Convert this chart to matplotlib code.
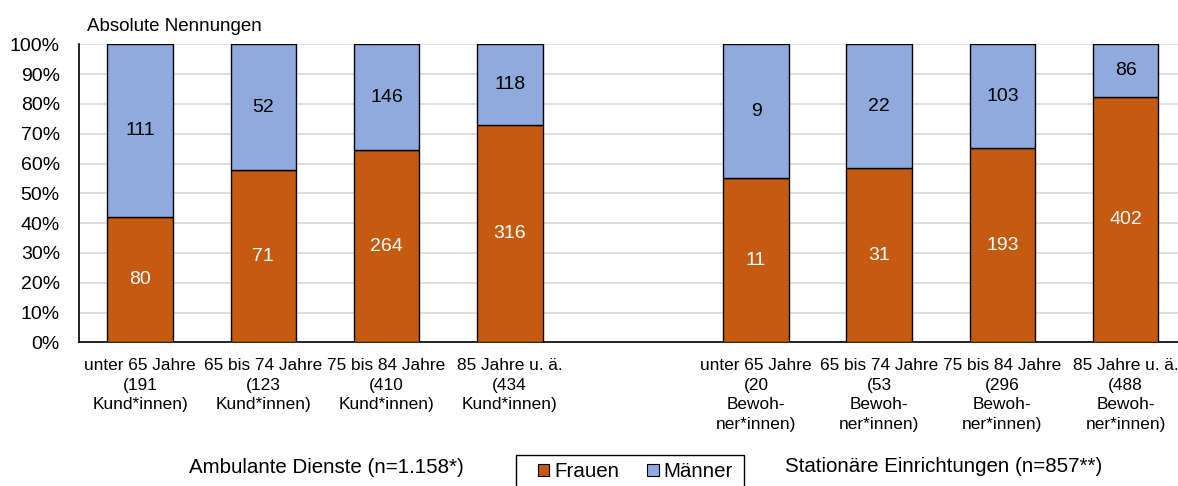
import numpy as np
import matplotlib
matplotlib.use("Agg")
import matplotlib.pyplot as plt
from matplotlib.patches import Rectangle

plt.rcParams['font.family'] = ['Liberation Sans', 'DejaVu Sans']

# absolute Nennungen per age group
age_labels = ["unter 65 Jahre", "65 bis 74 Jahre", "75 bis 84 Jahre", "85 Jahre u. ä."]
amb_frauen = [80, 71, 264, 316]
amb_maenner = [111, 52, 146, 118]
amb_total = [191, 123, 410, 434]
sta_frauen = [11, 31, 193, 402]
sta_maenner = [9, 22, 103, 86]
sta_total = [20, 53, 296, 488]

orange = "#C55A11"
blue = "#8FAADC"

fig = plt.figure(figsize=(11.78, 4.86), dpi=100)
ax = fig.add_axes([78.6 / 1178, 1 - 342.3 / 486, (1187.1 - 78.6) / 1178, (342.3 - 44.3) / 486])

frauen = amb_frauen + sta_frauen
maenner = amb_maenner + sta_maenner
labels = [a + "\n(" + str(n) + "\nKund*innen)" for a, n in zip(age_labels, amb_total)]
labels += [a + "\n(" + str(n) + "\nBewoh-\nner*innen)" for a, n in zip(age_labels, sta_total)]

# one empty slot between the two groups
x = np.array([i if i < 4 else i + 1 for i in range(8)])
f = np.array(frauen, dtype=float)
m = np.array(maenner, dtype=float)
pf = f / (f + m) * 100
pm = m / (f + m) * 100

w = 0.533
ax.bar(x, pf, w, color=orange, edgecolor="black", linewidth=1, zorder=3, label="Frauen")
ax.bar(x, pm, w, bottom=pf, color=blue, edgecolor="black", linewidth=1, zorder=3, label="Männer")

for xi, a, b, fv, mv in zip(x, pf, pm, frauen, maenner):
    ax.text(xi, a / 2, str(fv), ha="center", va="center", color="white", fontsize=14, zorder=4)
    ax.text(xi, a + b / 2, str(mv), ha="center", va="center", color="black", fontsize=14, zorder=4)

ax.set_xlim(-0.5, 8.5)
ax.set_ylim(0, 100)
ax.set_yticks(np.arange(0, 101, 10))
ax.set_yticklabels([str(v) + "%" for v in range(0, 101, 10)], fontsize=14)
ax.set_xticks(x)
ax.set_xticklabels(labels, fontsize=12.4, linespacing=1.38)
ax.tick_params(axis="y", length=0, pad=13.5)
ax.tick_params(axis="x", length=0, pad=11.5)
ax.yaxis.grid(True, color="#D9D9D9", linewidth=1.2, zorder=0)
ax.set_axisbelow(True)
for s in ["top", "right"]:
    ax.spines[s].set_visible(False)
ax.spines["left"].set_linewidth(1.2)
ax.spines["bottom"].set_linewidth(1.2)

fig.text(87 / 1178, 1 - 31 / 486, "Absolute Nennungen", fontsize=13.5, va="baseline", ha="left")
fig.text(326.7 / 1178, 1 - 473 / 486, "Ambulante Dienste (n=1.158*)", fontsize=14.8, va="baseline", ha="center")
fig.text(944 / 1178, 1 - 471.7 / 486, "Stationäre Einrichtungen (n=857**)", fontsize=14.8, va="baseline", ha="center")

# legend box runs past the bottom edge like in the original
fig.add_artist(Rectangle((516 / 1178, -0.02), (744 - 516) / 1178, 0.02 + (486 - 455) / 486,
                         transform=fig.transFigure, fill=False, edgecolor="black", linewidth=1))
leg = fig.legend(loc="upper left", bbox_to_anchor=(538 / 1178, 1 - 462 / 486), ncol=2,
                 fontsize=14.8, frameon=False, borderaxespad=0, borderpad=0,
                 handlelength=0.55, handleheight=0.55, handletextpad=0.25,
                 columnspacing=1.36)
for h in leg.legend_handles:
    h.set_linewidth(0.8)

fig.savefig("out.png", dpi=100)
